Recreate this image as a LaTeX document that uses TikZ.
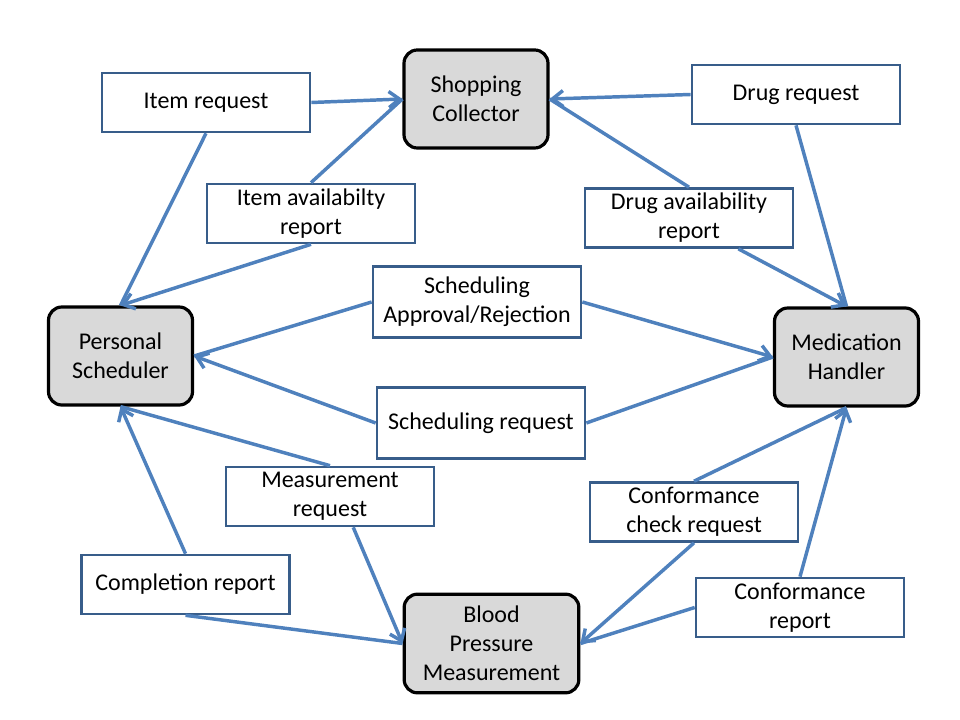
\documentclass[tikz,border=0pt]{standalone}
\usepackage{fontspec}
\setmainfont{Carlito}
\usetikzlibrary{arrows.meta}
\definecolor{linkblue}{HTML}{4F81BD}
\definecolor{boxblue}{HTML}{385D8A}
\definecolor{agentgray}{HTML}{D9D9D9}

\begin{document}
\begin{tikzpicture}
  [x=0.75pt,y=-0.75pt,
   node font=\fontsize{18}{21.75}\selectfont,
   agent/.style={rectangle,rounded corners=10pt,draw=black,line width=2.4pt,fill=agentgray,
     minimum width=108pt,minimum height=73.5pt,align=center,inner sep=0pt},
   message/.style={rectangle,draw=boxblue,line width=2pt,fill=white,
     minimum width=156pt,minimum height=44.25pt,align=center,inner sep=0pt},
   link/.style={draw=linkblue,line width=2.6pt,line join=round}]
  \useasboundingbox (0,0) rectangle (960,720);

  \node[agent] (sc) at (476,99) {Shopping\\Collector};
  \node[agent] (ps) at (120.5,356) {Personal\\Scheduler};
  \node[agent] (mh) at (846.5,357) {Medication\\Handler};
  \node[agent,minimum width=131pt,minimum height=74pt] (bpm) at (491.5,643.5) {Blood\\Pressure\\Measurement};

  \node[message] (ir) at (206,102.5) {Item request};
  \node[message] (iar) at (311,213.5) {Item availabilty\\report};
  \node[message] (dr) at (796,94.5) {Drug request};
  \node[message] (dar) at (689,218) {Drug availability\\report};
  \node[message,minimum height=53pt] (sar) at (477,302) {Scheduling\\Approval/Rejection};
  \node[message,minimum height=53pt] (sr) at (481,423) {Scheduling request};
  \node[message] (mr) at (330,496.5) {Measurement\\request};
  \node[message] (comp) at (185.5,584.5) {Completion report};
  \node[message] (ccr) at (694,512) {Conformance\\check request};
  \node[message] (cfr) at (800,607.5) {Conformance\\report};

  % sender to message
  \foreach \from/\to in {
    ps.north/ir.south, sc.west/iar.north,
    mh.north/dr.south, sc.east/dar.north,
    ps.east/sar.west, mh.west/sr.east,
    ps.south/mr.north, bpm.west/comp.south,
    mh.south/ccr.north, bpm.east/cfr.west}
  \path (\from) edge [link] (\to);

  % message to receiver
  \foreach \from/\to in {
    ir.east/sc.west, iar.south/ps.north,
    dr.west/sc.east, dar.-32/mh.north,
    sar.east/mh.west, sr.west/ps.east,
    mr.-53/bpm.west, comp.north/ps.south,
    ccr.south/bpm.east, cfr.north/mh.south}
  \path (\from) edge [link, arrows = {-Straight Barb[length=8pt, width=12pt]}] (\to);
\end{tikzpicture}
\end{document}
